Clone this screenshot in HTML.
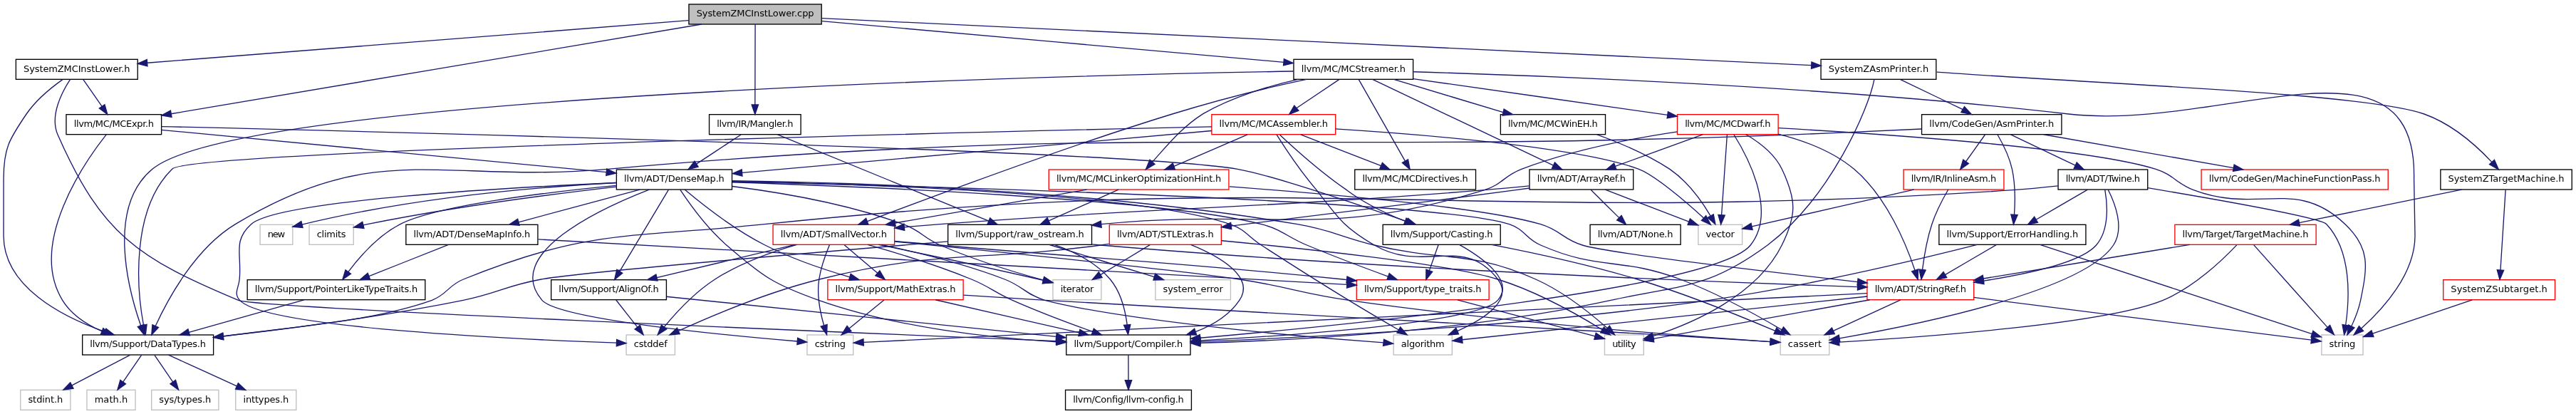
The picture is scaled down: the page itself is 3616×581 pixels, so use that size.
<!DOCTYPE html>
<html lang="en"><head><meta charset="utf-8"><title>SystemZMCInstLower.cpp include dependency graph</title>
<style>html,body{margin:0;padding:0;background:#fff;width:3616px;height:581px;overflow:hidden}svg{display:block;will-change:transform}text{font-family:"DejaVu Sans","Liberation Sans",sans-serif;font-size:13px;fill:#000;text-anchor:middle}.e path{fill:none;stroke:#191970;stroke-width:1.333}.e polygon{fill:#191970;stroke:#191970;stroke-width:1.333}.n rect{stroke-width:1.333}</style></head><body>
<svg width="3616" height="581" viewBox="0 0 3616 581">
<rect width="3616" height="581" fill="#fff"/>
<g class="n"><rect x="966.97" y="6" width="186.26" height="28" fill="#bfbfbf" stroke="#000"/><text x="1060.1" y="23.33" textLength="164.93" lengthAdjust="spacing">SystemZMCInstLower.cpp</text></g>
<g class="n"><rect x="22.37" y="83.33" width="170.86" height="28" fill="#fff" stroke="#000"/><text x="107.8" y="100.66" textLength="149.53" lengthAdjust="spacing">SystemZMCInstLower.h</text></g>
<g class="e"><path d="M966.65,28.67C786.16,42.81 391.26,73.77 206.61,88.25"/><polygon points="206.25,83.6 193.16,89.31 206.98,92.91"/></g>
<g class="n"><rect x="92.97" y="160.67" width="133.66" height="28" fill="#fff" stroke="#000"/><text x="159.8" y="178" textLength="112.33" lengthAdjust="spacing">llvm/MC/MCExpr.h</text></g>
<g class="e"><path d="M984.91,34.03C817.02,62.37 412.95,130.59 240.24,159.75"/><polygon points="239.46,155.15 226.73,162.03 241.02,164.35"/></g>
<g class="n"><rect x="2556.07" y="83.33" width="161.76" height="28" fill="#fff" stroke="#000"/><text x="2636.95" y="100.66" textLength="140.43" lengthAdjust="spacing">SystemZAsmPrinter.h</text></g>
<g class="e"><path d="M1153.86,25.69C1432.24,38.91 2263.79,78.37 2542.75,91.61"/><polygon points="2542.53,96.27 2556.26,92.24 2542.97,86.95"/></g>
<g class="n"><rect x="995.57" y="160.67" width="128.56" height="28" fill="#fff" stroke="#000"/><text x="1059.85" y="178" textLength="107.23" lengthAdjust="spacing">llvm/IR/Mangler.h</text></g>
<g class="e"><path d="M1060.1,34.29C1060.04,59.2 1059.92,114.17 1059.85,147.04"/><polygon points="1055.18,147.04 1059.85,160.41 1064.52,147.04"/></g>
<g class="n"><rect x="1815.97" y="83.33" width="167.66" height="28" fill="#fff" stroke="#000"/><text x="1899.8" y="100.66" textLength="146.33" lengthAdjust="spacing">llvm/MC/MCStreamer.h</text></g>
<g class="e"><path d="M1153.46,29.64C1313.6,43.88 1638.82,72.79 1801.97,87.29"/><polygon points="1801.56,91.94 1815.32,88.48 1802.39,82.65"/></g>
<g class="e"><path d="M116.85,111.67C124.09,122.05 134.43,136.89 143.13,149.41"/><polygon points="139.3,152.08 150.84,160.48 146.96,146.75"/></g>
<g class="n"><rect x="115.67" y="470" width="183.96" height="28" fill="#fff" stroke="#000"/><text x="207.65" y="487.33" textLength="162.63" lengthAdjust="spacing">llvm/Support/DataTypes.h</text></g>
<g class="e"><path d="M87.91,111.59C72.17,122.73 50.65,140.12 37.11,160C13.06,195.32 5.09,207.93 5.07,250.67C5.07,250.67 5.07,250.67 5.04,330.67C5.01,402.57 87.66,444.64 147.4,465.64"/><polygon points="145.91,470.06 160.13,469.92 148.88,461.22"/></g>
<g class="n"><rect x="1496.77" y="470" width="174.26" height="28" fill="#fff" stroke="#000"/><text x="1583.9" y="487.33" textLength="152.93" lengthAdjust="spacing">llvm/Support/Compiler.h</text></g>
<g class="e"><path d="M98.6,111.35C86.86,129.21 69.39,162.6 81.15,189.33C142.7,329.07 193.63,362.55 334.55,421.33C360.94,432.35 1189.87,466.76 1482.69,478.61"/><polygon points="1482.5,483.28 1496.22,479.16 1482.88,473.95"/></g>
<g class="n"><rect x="865.37" y="238" width="162.16" height="28" fill="#fff" stroke="#000"/><text x="946.45" y="255.33" textLength="140.83" lengthAdjust="spacing">llvm/ADT/DenseMap.h</text></g>
<g class="e"><path d="M226.53,182.33C366.21,195.59 689.79,226.31 851.25,241.63"/><polygon points="850.81,246.27 864.94,242.93 851.69,236.98"/></g>
<g class="e"><path d="M149.37,188.67C119.5,226.59 38.82,341.44 87.67,421.33C100.12,441.68 121.68,455.56 143.13,464.88"/><polygon points="141.41,469.22 155.68,469.85 144.85,460.54"/></g>
<g class="n"><rect x="1941.17" y="315.33" width="165.06" height="28" fill="#fff" stroke="#000"/><text x="2023.7" y="332.66" textLength="143.73" lengthAdjust="spacing">llvm/Support/Casting.h</text></g>
<g class="e"><path d="M226.52,177.55C507.52,184.19 1587.01,211.17 1737.09,237.33C1783.34,245.4 1906.13,286.91 1975.03,310.87"/><polygon points="1973.5,315.27 1987.66,315.27 1976.57,306.46"/></g>
<g class="n"><rect x="569.87" y="315.33" width="185.06" height="28" fill="#fff" stroke="#000"/><text x="662.4" y="332.66" textLength="163.73" lengthAdjust="spacing">llvm/ADT/DenseMapInfo.h</text></g>
<g class="e"><path d="M898.09,266.17C850.98,278.8 778.91,298.13 727.9,311.81"/><polygon points="726.7,307.3 714.63,315.33 729.1,316.32"/></g>
<g class="n"><rect x="347.17" y="392.67" width="249.66" height="28" fill="#fff" stroke="#000"/><text x="472" y="410" textLength="228.33" lengthAdjust="spacing">llvm/Support/PointerLikeTypeTraits.h</text></g>
<g class="e"><path d="M864.7,260.39C767.88,269.77 613.14,288.32 561.81,314.67C531.23,330.37 504.82,360.37 488.77,381.56"/><polygon points="485.03,378.78 480.83,392.27 492.52,384.34"/></g>
<g class="n"><rect x="1904.27" y="392.67" width="185.86" height="28" fill="#fff" stroke="#f00"/><text x="1997.2" y="410" textLength="164.53" lengthAdjust="spacing">llvm/Support/type_traits.h</text></g>
<g class="e"><path d="M1027.88,255.73C1207.28,261.6 1631.64,278.92 1770.49,314.67C1800.8,322.47 1805.62,331.96 1834.51,344C1872.46,359.83 1916.1,376.17 1948.61,388.01"/><polygon points="1947.02,392.4 1961.39,392.64 1950.2,383.63"/></g>
<g class="n"><rect x="2252.47" y="470" width="54.86" height="28" fill="#fff" stroke="#bfbfbf"/><text x="2279.9" y="487.33" textLength="33.53" lengthAdjust="spacing">utility</text></g>
<g class="e"><path d="M1027.86,253.76C1183.21,255.73 1532.2,265.79 1821.15,314.67C1870.2,322.96 1880.81,332.32 1929.17,344C2029.27,368.17 2061.81,350.01 2155.86,392C2194.38,409.2 2232.63,439.75 2256.27,460.59"/><polygon points="2253.15,464.05 2266.62,469.93 2259.4,457.12"/></g>
<g class="n"><rect x="773.67" y="392.67" width="161.76" height="28" fill="#fff" stroke="#000"/><text x="854.55" y="410" textLength="140.43" lengthAdjust="spacing">llvm/Support/AlignOf.h</text></g>
<g class="e"><path d="M938.38,266.29C923.2,291.64 889.36,348.16 869.83,380.8"/><polygon points="865.87,378.33 862.6,392.41 873.79,383.27"/></g>
<g class="e"><path d="M954.73,266.24C967.19,285 992.29,320.12 1019.83,344C1070.42,387.89 1086.04,399.03 1149.2,421.33C1259.26,460.2 1393.2,474.52 1483.07,479.75"/><polygon points="1482.82,484.41 1496.55,480.48 1483.33,475.09"/></g>
<g class="n"><rect x="879.07" y="470" width="68.36" height="28" fill="#fff" stroke="#bfbfbf"/><text x="913.25" y="487.33" textLength="47.03" lengthAdjust="spacing">cstddef</text></g>
<g class="e"><path d="M864.73,256.52C710.77,263.29 389.67,281.27 352.51,314.67C326.47,338.07 339.58,356.99 336.14,392C334.86,404.96 327.66,411.64 336.5,421.33C372.11,460.39 733.62,476.55 865.48,481.17"/><polygon points="865.32,485.84 878.94,481.63 865.63,476.51"/></g>
<g class="n"><rect x="1161.87" y="392.67" width="190.26" height="28" fill="#fff" stroke="#f00"/><text x="1257" y="410" textLength="168.93" lengthAdjust="spacing">llvm/Support/MathExtras.h</text></g>
<g class="e"><path d="M961.1,266.07C983.95,285.23 1029.84,321.6 1073.89,344C1111.72,363.24 1156.86,378.43 1192.87,388.88"/><polygon points="1191.59,393.37 1206.15,392.65 1194.14,384.39"/></g>
<g class="n"><rect x="2499.17" y="470" width="68.66" height="28" fill="#fff" stroke="#bfbfbf"/><text x="2533.5" y="487.33" textLength="47.33" lengthAdjust="spacing">cassert</text></g>
<g class="e"><path d="M1028.01,255.11C1276.87,260.85 2015.82,280.63 2118.56,314.67C2140.88,322.07 2141.08,334.55 2162.61,344C2244.79,380.08 2274.7,360.45 2358.7,392C2410.58,411.48 2466.85,442.64 2501.17,462.88"/><polygon points="2498.77,466.89 2512.74,469.8 2503.56,458.87"/></g>
<g class="n"><rect x="1132.97" y="470" width="64.76" height="28" fill="#fff" stroke="#bfbfbf"/><text x="1165.35" y="487.33" textLength="43.43" lengthAdjust="spacing">cstring</text></g>
<g class="e"><path d="M911.32,266.01C843.28,292.48 704.74,356.53 760.93,421.33C784.26,448.24 1018.19,470.56 1119.27,479.01"/><polygon points="1118.88,483.66 1132.6,480.12 1119.66,474.36"/></g>
<g class="n"><rect x="1956.17" y="470" width="82.16" height="28" fill="#fff" stroke="#bfbfbf"/><text x="1997.25" y="487.33" textLength="60.83" lengthAdjust="spacing">algorithm</text></g>
<g class="e"><path d="M1028.2,254.56C1201.27,258.01 1599.22,270.63 1726.49,314.67C1748.71,322.36 1750.78,331.21 1770.51,344C1824.61,379.07 1838.18,387.77 1893.22,421.33C1916.5,435.52 1942.96,451.12 1963.38,463.04"/><polygon points="1961.04,467.07 1975.22,469.93 1965.73,459.01"/></g>
<g class="n"><rect x="434.07" y="315.33" width="62.16" height="28" fill="#fff" stroke="#bfbfbf"/><text x="465.15" y="332.66" textLength="40.83" lengthAdjust="spacing">climits</text></g>
<g class="e"><path d="M865.01,262.08C778.06,272.08 636.47,290.28 515.82,314.67C513.87,315.07 511.88,315.48 509.87,315.93"/><polygon points="508.78,311.4 496.64,319.11 510.96,320.47"/></g>
<g class="n"><rect x="1477.97" y="392.67" width="67.96" height="28" fill="#fff" stroke="#bfbfbf"/><text x="1511.95" y="410" textLength="46.63" lengthAdjust="spacing">iterator</text></g>
<g class="e"><path d="M1027.96,261.48C1094.13,269.83 1189.01,285.8 1267.85,314.67C1292.78,323.79 1295.55,333.39 1319.89,344C1367.82,364.91 1425.23,382.29 1464.71,393.16"/><polygon points="1463.49,397.67 1477.88,396.72 1465.93,388.65"/></g>
<g class="n"><rect x="365.07" y="315.33" width="45.76" height="28" fill="#fff" stroke="#bfbfbf"/><text x="387.95" y="332.66" textLength="24.43" lengthAdjust="spacing">new</text></g>
<g class="e"><path d="M864.78,256.53C763.39,261.89 585.35,275.93 423.96,315.05"/><polygon points="422.85,310.52 410.82,318.28 425.08,319.59"/></g>
<g class="e"><path d="M628.93,343.51C598.3,355.71 551.98,374.16 517.91,387.72"/><polygon points="516.23,383.36 505.03,392.67 519.58,392.08"/></g>
<g class="e"><path d="M755.53,335.89C996.13,349.35 1636.16,385.13 1890.8,399.37"/><polygon points="1890.54,404.03 1904.43,400.13 1891.06,394.71"/></g>
<g class="e"><path d="M426.84,420.84C382.13,433.41 313.81,452.63 265.22,466.31"/><polygon points="263.95,461.82 252.21,470 266.5,470.8"/></g>
<g class="n"><rect x="121.97" y="547.33" width="68.06" height="28" fill="#fff" stroke="#bfbfbf"/><text x="156" y="564.66" textLength="46.73" lengthAdjust="spacing">math.h</text></g>
<g class="e"><path d="M198.6,498.33C191.45,508.72 181.26,523.56 172.67,536.08"/><polygon points="168.84,533.41 164.96,547.15 176.5,538.75"/></g>
<g class="n"><rect x="212.67" y="547.33" width="94.26" height="28" fill="#fff" stroke="#bfbfbf"/><text x="259.8" y="564.66" textLength="72.93" lengthAdjust="spacing">sys/types.h</text></g>
<g class="e"><path d="M216.94,498.33C224.03,508.72 234.17,523.56 242.71,536.08"/><polygon points="238.91,538.79 250.61,547.15 246.5,533.37"/></g>
<g class="n"><rect x="330.77" y="547.33" width="85.06" height="28" fill="#fff" stroke="#bfbfbf"/><text x="373.3" y="564.66" textLength="63.73" lengthAdjust="spacing">inttypes.h</text></g>
<g class="e"><path d="M236.53,498.17C262.98,510.21 302.77,528.33 332.46,541.85"/><polygon points="330.57,546.12 344.79,547.33 334.35,537.59"/></g>
<g class="n"><rect x="28.77" y="547.33" width="70.16" height="28" fill="#fff" stroke="#bfbfbf"/><text x="63.85" y="564.66" textLength="48.83" lengthAdjust="spacing">stdint.h</text></g>
<g class="e"><path d="M182.33,498.33C159.83,510.12 126.41,527.61 100.9,540.96"/><polygon points="98.77,536.81 88.88,547.15 103.04,545.11"/></g>
<g class="e"><path d="M2045.79,420.84C2100.34,435.24 2187.88,458.36 2239.05,471.88"/><polygon points="2237.86,476.39 2252.46,475.41 2240.24,467.37"/></g>
<g class="e"><path d="M935.34,416.24C1069,429.95 1336.63,457.37 1482.67,472.35"/><polygon points="1482.2,476.99 1496.06,473.71 1483.15,467.7"/></g>
<g class="e"><path d="M864.76,421C873.03,431.49 884.85,446.53 894.76,459.13"/><polygon points="891.09,462.02 903.14,469.81 898.43,456.25"/></g>
<g class="n"><rect x="1495.57" y="547.33" width="176.86" height="28" fill="#fff" stroke="#000"/><text x="1584" y="564.66" textLength="155.53" lengthAdjust="spacing">llvm/Config/llvm-config.h</text></g>
<g class="e"><path d="M1583.9,498.33C1583.93,508.08 1583.97,521.75 1584,533.73"/><polygon points="1579.33,533.73 1584,547.15 1588.67,533.73"/></g>
<g class="e"><path d="M1313.01,420.75C1368.84,433.53 1454.89,453.23 1514.9,466.96"/><polygon points="1513.86,471.51 1528.11,469.97 1515.94,462.41"/></g>
<g class="e"><path d="M1352.43,414.19C1388.49,416.48 1429.92,419.08 1467.58,421.33C1846.47,444 1941.4,446.81 2320.3,469.33C2376.83,472.69 2441.79,476.79 2484.98,479.55"/><polygon points="2484.68,484.2 2498.77,480.43 2485.28,474.89"/></g>
<g class="e"><path d="M1240.97,421C1227.48,432.04 1207.85,448.08 1192,461.04"/><polygon points="1189.06,457.42 1181.19,469.81 1194.94,464.66"/></g>
<g class="e"><path d="M2019.06,343.67C2015.55,353.63 2010.6,367.68 2006.31,379.85"/><polygon points="2001.91,378.28 2001.79,392.48 2010.7,381.43"/></g>
<g class="e"><path d="M2048.55,343.36C2079.91,360.97 2126.95,393.76 2102.48,421.33C2075.33,451.95 1828.21,469.89 1685.13,477.81"/><polygon points="1684.87,473.15 1671.62,478.55 1685.38,482.47"/></g>
<g class="e"><path d="M2093.87,343.33C2149.86,354.16 2229.97,371.24 2298.55,392C2367.69,412.92 2445.45,444.6 2491.93,464.43"/><polygon points="2490.08,468.71 2504.73,469.95 2493.77,460.14"/></g>
<g class="e"><path d="M2630.94,111.43C2623.45,151.64 2569.69,276.96 2481.23,344C2397.75,405.43 2362.51,399.31 2261.23,421.33C2059.9,465.12 1818.31,477.72 1684.9,481.29"/><polygon points="1684.78,476.63 1671.55,481.63 1685.02,485.96"/></g>
<g class="n"><rect x="3425.87" y="238" width="184.36" height="28" fill="#fff" stroke="#000"/><text x="3518.05" y="255.33" textLength="163.03" lengthAdjust="spacing">SystemZTargetMachine.h</text></g>
<g class="e"><path d="M2718.6,101.2C2930,117 3320,130.4 3402.8,160C3443.9,174.7 3477.6,205.9 3498,227.6"/><polygon points="3494.52,230.71 3507.36,237.92 3501.44,224.44"/></g>
<g class="n"><rect x="2697.57" y="160.67" width="196.36" height="28" fill="#fff" stroke="#000"/><text x="2795.75" y="178" textLength="175.03" lengthAdjust="spacing">llvm/CodeGen/AsmPrinter.h</text></g>
<g class="e"><path d="M2667.74,111.67C2691.89,123.24 2727.54,140.32 2755.2,153.57"/><polygon points="2752.91,157.64 2767.42,160.48 2757.5,149.51"/></g>
<g class="n"><rect x="3429.67" y="392.67" width="156.86" height="28" fill="#fff" stroke="#f00"/><text x="3508.1" y="410" textLength="135.53" lengthAdjust="spacing">SystemZSubtarget.h</text></g>
<g class="e"><path d="M3517.14,266.29C3515.55,291.2 3512.04,346.17 3509.94,379.04"/><polygon points="3505.28,378.72 3509.01,392.41 3514.6,379.36"/></g>
<g class="n"><rect x="3052.87" y="315.33" width="198.26" height="28" fill="#fff" stroke="#f00"/><text x="3152" y="332.66" textLength="176.93" lengthAdjust="spacing">llvm/Target/TargetMachine.h</text></g>
<g class="e"><path d="M3455.44,266.08C3392.33,278.97 3294.76,298.89 3227.44,312.64"/><polygon points="3226.51,308.07 3214.36,315.31 3228.37,317.21"/></g>
<g class="n"><rect x="3258.87" y="470" width="58.16" height="28" fill="#fff" stroke="#bfbfbf"/><text x="3287.95" y="487.33" textLength="36.83" lengthAdjust="spacing">string</text></g>
<g class="e"><path d="M3470.29,420.84C3431.39,434.03 3370.95,454.51 3330.44,468.24"/><polygon points="3328.94,463.82 3317.54,472.63 3331.95,472.66"/></g>
<g class="e"><path d="M3139.77,343.88C3120.36,364.37 3079.73,403.35 3036.28,421.33C2954.95,455 2690.98,473.63 2581.65,480.07"/><polygon points="2581.38,475.41 2568.18,480.84 2581.91,484.73"/></g>
<g class="e"><path d="M3163.6,343.63C3186.56,369.32 3238.16,427 3267.15,459.43"/><polygon points="3263.67,462.54 3276.39,469.75 3270.63,456.31"/></g>
<g class="n"><rect x="2620.97" y="392.67" width="149.76" height="28" fill="#fff" stroke="#f00"/><text x="2695.85" y="410" textLength="128.43" lengthAdjust="spacing">llvm/ADT/StringRef.h</text></g>
<g class="e"><path d="M3073.68,343.41C2993.26,356.63 2867.85,377.21 2784.01,390.99"/><polygon points="2783.26,386.38 2770.81,393.13 2784.76,395.59"/></g>
<g class="e"><path d="M2624.81,420.75C2537.33,436.45 2391.66,462.6 2320.94,475.31"/><polygon points="2320.12,470.71 2307.43,477.72 2321.76,479.9"/></g>
<g class="e"><path d="M2667.89,420.84C2641.86,432.83 2602.74,450.84 2573.43,464.33"/><polygon points="2571.48,460.09 2561.1,470 2575.38,468.57"/></g>
<g class="e"><path d="M2620.92,411.65C2350.78,424.83 1430.52,469.73 1212.15,480.39"/><polygon points="1211.92,475.73 1198.22,481.07 1212.38,485.05"/></g>
<g class="e"><path d="M2621.08,415.99C2479.92,431.08 2177.16,463.44 2052.56,476.76"/><polygon points="2052.06,472.12 2038.97,478.21 2053.05,481.4"/></g>
<g class="e"><path d="M2770.56,417.39C2895.65,433.17 3144.41,464.57 3244.51,477.21"/><polygon points="3243.93,481.84 3258.24,478.93 3245.09,472.58"/></g>
<g class="e"><path d="M2697.14,180.99C2641.52,183.69 2570.77,186.96 2507.75,189.33C1772.54,217.01 1585.95,172.71 853.06,237.33C619.14,257.96 531.4,193.23 330.37,314.67C273.92,348.76 235.57,419.68 218.21,457.55"/><polygon points="213.94,455.66 212.77,469.88 222.48,459.43"/></g>
<g class="n"><rect x="2889.07" y="238" width="125.66" height="28" fill="#fff" stroke="#000"/><text x="2951.9" y="255.33" textLength="104.33" lengthAdjust="spacing">llvm/ADT/Twine.h</text></g>
<g class="e"><path d="M2822.56,188.84C2847.54,200.77 2885.01,218.68 2913.22,232.16"/><polygon points="2911.21,236.37 2925.43,238 2915.23,227.95"/></g>
<g class="n"><rect x="2721.87" y="315.33" width="206.06" height="28" fill="#fff" stroke="#000"/><text x="2824.9" y="332.66" textLength="184.73" lengthAdjust="spacing">llvm/Support/ErrorHandling.h</text></g>
<g class="e"><path d="M2804.03,189.03C2811,201.04 2820.52,219.64 2824.43,237.33C2829.09,258.41 2828.77,283 2827.49,301.25"/><polygon points="2822.83,300.9 2826.45,314.88 2832.14,301.61"/></g>
<g class="n"><rect x="3090.07" y="238" width="262.16" height="28" fill="#fff" stroke="#f00"/><text x="3221.15" y="255.33" textLength="240.83" lengthAdjust="spacing">llvm/CodeGen/MachineFunctionPass.h</text></g>
<g class="e"><path d="M2868.62,188.75C2942.51,201.75 3057.08,221.89 3135.32,235.65"/><polygon points="3134.52,240.25 3148.59,237.97 3136.13,231.06"/></g>
<g class="n"><rect x="2672.07" y="238" width="140.86" height="28" fill="#fff" stroke="#f00"/><text x="2742.5" y="255.33" textLength="119.53" lengthAdjust="spacing">llvm/IR/InlineAsm.h</text></g>
<g class="e"><path d="M2786.46,189C2779.07,199.39 2768.5,214.23 2759.59,226.75"/><polygon points="2755.8,224.03 2751.69,237.81 2763.39,229.46"/></g>
<g class="e"><path d="M2888.8,260.9C2868.6,263.1 2846,265.3 2825.2,266.7C2047.9,318.1 1848,233.7 1073.2,314.7C883.2,334.5 827.5,320.4 650.4,392C628.6,400.8 628.3,412.8 606.4,421.3C520,452 405,459 313.3,472.2"/><polygon points="312.7,467.57 299.8,473.6 313.67,476.85"/></g>
<g class="e"><path d="M2959.21,266.24C2968.78,284.99 2982.52,320.09 2966.67,344C2923.28,409.43 2685.85,456.89 2582.07,474.81"/><polygon points="2581.29,470.21 2568.35,477.15 2582.86,479.41"/></g>
<g class="e"><path d="M3014.86,263.69C3103.98,278.65 3257.32,305.53 3265.87,314.67C3301.57,352.76 3298.06,419.36 3292.66,456.23"/><polygon points="3288.04,455.51 3290.59,469.61 3297.27,456.94"/></g>
<g class="e"><path d="M2954.74,266.23C2958.19,285.6 2961.42,322.25 2942.54,344C2921.71,367.99 2846.32,384.39 2784.3,394.15"/><polygon points="2783.6,389.53 2770.89,396.2 2785.01,398.76"/></g>
<g class="e"><path d="M2930.07,266.33C2910.2,277.91 2880.85,294.99 2858.07,308.24"/><polygon points="2855.68,304.23 2846.49,315.15 2860.46,312.25"/></g>
<g class="e"><path d="M2775.37,343.47C2696.48,363.39 2536.88,401.59 2399.19,421.33C2143.68,457.97 1839.4,473.52 1684.85,479.44"/><polygon points="1684.67,474.78 1671.27,479.95 1685.02,484.1"/></g>
<g class="e"><path d="M2863.66,343.36C2949.63,371.6 3156.07,439.39 3245.43,468.73"/><polygon points="3243.97,473.17 3258.26,472.95 3246.89,464.3"/></g>
<g class="e"><path d="M2802.14,343.67C2782.35,355.24 2753.13,372.32 2730.44,385.57"/><polygon points="2728.12,381.52 2718.34,392.48 2732.75,389.63"/></g>
<g class="e"><path d="M2734.78,266.03C2727.78,278.12 2717.66,297.03 2711.84,314.67C2704.95,335.53 2700.85,360.15 2698.53,378.45"/><polygon points="2693.89,377.92 2696.97,392.13 2703.17,378.98"/></g>
<g class="n"><rect x="2383.87" y="315.33" width="61.76" height="28" fill="#fff" stroke="#bfbfbf"/><text x="2414.75" y="332.66" textLength="40.43" lengthAdjust="spacing">vector</text></g>
<g class="e"><path d="M2686.49,266.08C2622.18,280.73 2517.98,304.48 2459.07,317.91"/><polygon points="2458.03,313.36 2445.8,320.93 2460.11,322.46"/></g>
<g class="e"><path d="M1040.1,189C1022.86,200.36 997.55,217.01 977.57,230.16"/><polygon points="975,226.26 965.97,237.81 980.14,234.06"/></g>
<g class="n"><rect x="1330.67" y="315.33" width="201.86" height="28" fill="#fff" stroke="#000"/><text x="1431.6" y="332.66" textLength="180.53" lengthAdjust="spacing">llvm/Support/raw_ostream.h</text></g>
<g class="e"><path d="M1090.93,188.69C1157.06,215.75 1311.98,279.11 1387.97,310.17"/><polygon points="1386.21,314.49 1400.35,315.23 1389.74,305.85"/></g>
<g class="e"><path d="M1330.87,338.91C1157.11,353.25 814.32,382.24 759.62,392C710.09,400.84 699.6,411.35 650.3,421.33C536.03,444.48 403.38,461.59 313.3,471.77"/><polygon points="312.79,467.14 299.77,473.28 313.82,476.41"/></g>
<g class="e"><path d="M1479.89,343.33C1506.57,352.67 1538.28,368 1558.4,392C1573.48,409.99 1579.69,436.28 1582.23,455.93"/><polygon points="1577.59,456.37 1583.51,469.41 1586.88,455.49"/></g>
<g class="e"><path d="M1532.29,342.85C1536.56,343.27 1540.79,343.64 1544.94,344C1940.72,377.79 2414.65,396.05 2607.62,402.55"/><polygon points="2607.47,407.21 2621.02,403 2607.78,397.88"/></g>
<g class="n"><rect x="1621.87" y="392.67" width="105.56" height="28" fill="#fff" stroke="#bfbfbf"/><text x="1674.65" y="410" textLength="84.23" lengthAdjust="spacing">system_error</text></g>
<g class="e"><path d="M1473.32,343.51C1513.95,355.97 1575.85,374.97 1620.32,388.61"/><polygon points="1618.94,393.07 1633.48,392.67 1621.69,384.15"/></g>
<g class="e"><path d="M1815.45,100.03C1491.42,105.99 338.42,134.32 213.9,237.33C149.56,290.56 179.84,405.68 197.69,457.04"/><polygon points="193.31,458.66 202.37,469.72 202.07,455.42"/></g>
<g class="e"><path d="M1984.36,100.79C2157.58,105.81 2565.4,121.08 2903.69,160C3120.76,184.89 3393.13,31.23 3388.59,250.67C3388.59,250.67 3388.59,250.67 3390,330.67C3390,384.61 3344.89,433.99 3314.51,461.04"/><polygon points="3311.45,457.52 3304.23,469.96 3317.57,464.56"/></g>
<g class="n"><rect x="2146.97" y="238" width="145.76" height="28" fill="#fff" stroke="#000"/><text x="2219.85" y="255.33" textLength="124.43" lengthAdjust="spacing">llvm/ADT/ArrayRef.h</text></g>
<g class="e"><path d="M1926.64,111.36C1983.06,138.19 2114.6,200.72 2180.53,232.07"/><polygon points="2178.53,236.29 2192.85,237.89 2182.53,227.85"/></g>
<g class="n"><rect x="1085.07" y="315.33" width="170.56" height="28" fill="#fff" stroke="#f00"/><text x="1170.35" y="332.66" textLength="149.23" lengthAdjust="spacing">llvm/ADT/SmallVector.h</text></g>
<g class="e"><path d="M1833.9,111.3C1786,121.5 1712,139.5 1644,160.5C1480,211 1301.1,278.9 1217.3,310.7"/><polygon points="1215.72,306.31 1204.76,315.32 1218.95,315.06"/></g>
<g class="n"><rect x="1700.87" y="160.67" width="173.86" height="28" fill="#fff" stroke="#f00"/><text x="1787.8" y="178" textLength="152.53" lengthAdjust="spacing">llvm/MC/MCAssembler.h</text></g>
<g class="e"><path d="M1879.71,111.67C1863.23,122.71 1839.26,138.75 1819.91,151.71"/><polygon points="1816.86,148.17 1809.72,160.48 1822.95,155.24"/></g>
<g class="n"><rect x="1901.77" y="238" width="169.76" height="28" fill="#fff" stroke="#000"/><text x="1986.65" y="255.33" textLength="148.43" lengthAdjust="spacing">llvm/MC/MCDirectives.h</text></g>
<g class="e"><path d="M1907.31,111.63C1921.73,136.97 1953.88,193.49 1972.45,226.13"/><polygon points="1968.41,228.47 1979.17,237.75 1976.49,223.8"/></g>
<g class="n"><rect x="1472.27" y="238" width="252.66" height="28" fill="#fff" stroke="#f00"/><text x="1598.6" y="255.33" textLength="231.33" lengthAdjust="spacing">llvm/MC/MCLinkerOptimizationHint.h</text></g>
<g class="e"><path d="M1822.3,111.3C1785,119.5 1730,136 1688.9,159.6C1658,179 1637,206 1617.5,227.3"/><polygon points="1614.01,224.2 1608.3,237.9 1621.06,230.32"/></g>
<g class="n"><rect x="2354.47" y="160.67" width="141.66" height="28" fill="#fff" stroke="#f00"/><text x="2425.3" y="178" textLength="120.33" lengthAdjust="spacing">llvm/MC/MCDwarf.h</text></g>
<g class="e"><path d="M1983.84,110.59C2081.71,124.51 2242.7,147.4 2340.78,161.35"/><polygon points="2340.13,165.97 2354.23,163.25 2341.43,156.73"/></g>
<g class="n"><rect x="2106.37" y="160.67" width="147.16" height="28" fill="#fff" stroke="#000"/><text x="2179.95" y="178" textLength="125.83" lengthAdjust="spacing">llvm/MC/MCWinEH.h</text></g>
<g class="e"><path d="M1956.49,111.41C1998.97,124.2 2064.45,143.89 2110.11,157.63"/><polygon points="2109.08,162.18 2123.48,160.64 2111.14,153.07"/></g>
<g class="e"><path d="M2253.32,266.17C2285.77,278.59 2335.15,297.49 2370.76,311.13"/><polygon points="2369.09,315.49 2383.64,316.07 2372.43,306.78"/></g>
<g class="n"><rect x="2232.07" y="315.33" width="127.06" height="28" fill="#fff" stroke="#000"/><text x="2295.6" y="332.66" textLength="105.73" lengthAdjust="spacing">llvm/ADT/None.h</text></g>
<g class="e"><path d="M2233.09,266.33C2244.02,277.15 2259.84,292.79 2272.81,305.61"/><polygon points="2269.54,308.94 2282.52,315.15 2276.08,302.28"/></g>
<g class="n"><rect x="1557.27" y="315.33" width="157.06" height="28" fill="#fff" stroke="#f00"/><text x="1635.8" y="332.66" textLength="135.73" lengthAdjust="spacing">llvm/ADT/STLExtras.h</text></g>
<g class="e"><path d="M2147.05,264.03C2140.56,264.93 2134.09,265.83 2127.85,266.67C1988.71,285.41 1827.16,305.17 1728.21,317.04"/><polygon points="1727.66,312.41 1714.68,318.65 1728.77,321.67"/></g>
<g class="e"><path d="M2146.84,260.96C2126.46,262.96 2104.29,265.03 2083.83,266.67C1744.62,293.93 1659.01,288.87 1319.7,314.67C1303.41,315.91 1286.14,317.33 1269.34,318.79"/><polygon points="1268.93,314.14 1256,319.96 1269.75,323.44"/></g>
<g class="e"><path d="M1714.79,337.76C1828.38,348.52 2031.97,370.05 2102.51,392C2156.92,408.92 2214.78,441.63 2249.11,462.77"/><polygon points="2246.63,466.73 2260.63,470 2251.59,458.82"/></g>
<g class="e"><path d="M1671.57,343.37C1709.99,359.08 1762.64,387.88 1739.86,421.33C1725.37,442.63 1702.24,456.53 1678.18,465.61"/><polygon points="1676.67,461.2 1665.55,469.93 1679.69,470.03"/></g>
<g class="e"><path d="M1556.69,342.41C1552.8,342.96 1548.94,343.49 1545.17,344C1369.99,367.56 1321.43,349.55 1150.26,392C1078.1,409.91 998.33,443.56 952.3,464.45"/><polygon points="950.37,460.2 940.12,469.99 954.23,468.7"/></g>
<g class="e"><path d="M1614.2,343.67C1595.04,355.24 1566.74,372.32 1544.78,385.57"/><polygon points="1542.37,381.57 1533.3,392.48 1547.18,389.57"/></g>
<g class="e"><path d="M1256.03,338.39C1276.86,340.24 1299.08,342.2 1319.7,344C1570.99,365.88 1634.24,366.43 1885.2,392C1886.95,392.17 1888.72,392.36 1890.51,392.55"/><polygon points="1890.01,397.19 1904.33,394.03 1891,387.91"/></g>
<g class="e"><path d="M1115.94,343.41C1062.3,356.17 979.7,375.81 921.95,389.53"/><polygon points="920.88,384.99 908.75,392.64 923.02,394.08"/></g>
<g class="e"><path d="M1218,343.4C1257.65,354.55 1315.2,372.05 1363.77,392C1390.26,402.88 1394.96,409.75 1421.16,421.33C1458.29,437.76 1501.33,453.85 1533.82,465.43"/><polygon points="1532.26,469.83 1546.59,469.95 1535.38,461.03"/></g>
<g class="e"><path d="M1118.5,343.36C1084.13,353.29 1038.95,369.25 1003.57,392C975.2,410.24 948.85,438.83 932.16,459.01"/><polygon points="928.56,456.03 923.22,469.79 935.75,461.99"/></g>
<g class="e"><path d="M1185.22,343.67C1198.06,354.6 1216.69,370.44 1231.84,383.32"/><polygon points="1228.77,386.83 1242.31,392.48 1234.91,379.81"/></g>
<g class="e"><path d="M1255.9,339.01C1391.26,352.37 1648.74,378.4 1739.87,392C1808.53,402.24 1824.59,411.49 1893.3,421.33C2113.35,452.84 2378.29,472.44 2485.25,479.59"/><polygon points="2484.94,484.24 2498.67,480.48 2485.56,474.93"/></g>
<g class="e"><path d="M1164.47,343.49C1159.41,355.68 1152.41,374.65 1149.73,392C1146.36,413.84 1151.36,438.67 1156.63,456.81"/><polygon points="1152.17,458.18 1160.58,469.75 1161.09,455.45"/></g>
<g class="e"><path d="M1237.3,343.4C1286.2,353.8 1353.6,370.2 1410.4,392C1436.7,402.1 1439.6,413.1 1466.5,421.3C1560,446 1790,470.5 1942.3,480.8"/><polygon points="1941.54,485.41 1955.6,482.3 1942.58,476.14"/></g>
<g class="e"><path d="M1233.42,343.43C1291.92,355.41 1381.31,374.13 1458.61,392C1460.53,392.44 1462.48,392.91 1464.46,393.37"/><polygon points="1463.36,397.91 1477.56,396.55 1465.55,388.84"/></g>
<g class="e"><path d="M1700.87,183.51C1543.43,197.57 1204.88,227.85 1041.58,242.45"/><polygon points="1041.18,237.8 1028.25,243.61 1041.99,247.1"/></g>
<g class="e"><path d="M1701.07,177.88C1378.66,185.13 258.3,212.11 241.63,237.33C183.82,293.48 191.85,405.28 201.52,456.25"/><polygon points="196.95,457.23 204.34,469.45 206.08,455.28"/></g>
<g class="e"><path d="M1792.12,189.05C1803.67,207.37 1826.38,241.29 1848.05,266.67C1878.64,306.37 1886.9,319.55 1929.25,344C1998.13,384.56 2054.1,328.37 2102.58,392C2124.89,421.33 2083.09,447.93 2045.73,464.63"/><polygon points="2043.91,460.33 2033.33,469.89 2047.55,468.92"/></g>
<g class="e"><path d="M1796.55,189.28C1817.08,208.48 1857.38,244.16 1890.37,266.67C1915.13,285.24 1946.41,300 1972.45,310.37"/><polygon points="1970.77,314.73 1985.14,315.27 1974.13,306.02"/></g>
<g class="e"><path d="M1874.59,180.92C1998.79,188.81 2218.8,206.6 2300.41,237.33C2322.21,245.55 2365.51,281.97 2391.55,306.08"/><polygon points="2388.37,309.49 2401.36,315.24 2394.73,302.67"/></g>
<g class="e"><path d="M1825.83,188.84C1856.93,200.93 1903.81,219.16 1938.62,232.69"/><polygon points="1936.79,236.98 1951.01,238 1940.46,228.4"/></g>
<g class="e"><path d="M1751.13,188.84C1722.62,201.15 1679.38,219.81 1647.88,233.41"/><polygon points="1646.34,229.01 1634.8,238 1649.42,237.82"/></g>
<g class="e"><path d="M1725.84,261.91C1866.42,272.32 2083.45,291.4 2162.57,314.67C2190.54,322.89 2193.34,335.49 2221.22,344C2257.25,355 2480.51,381.2 2607.58,395.55"/><polygon points="2607.06,400.18 2621.08,397.07 2608.11,390.91"/></g>
<g class="e"><path d="M1569.95,266.17C1542.99,278.21 1502.38,296.33 1472.11,309.85"/><polygon points="1470.2,305.59 1459.88,315.33 1474.02,314.11"/></g>
<g class="e"><path d="M1525.51,266.08C1450.96,279.08 1335.38,299.23 1256.44,312.99"/><polygon points="1255.64,308.39 1243.14,315.31 1257.24,317.58"/></g>
<g class="e"><path d="M2450.91,188.73C2468.67,199.12 2490.91,215.61 2501.29,237.33C2521.72,280.11 2522.3,301.51 2501.26,344C2465.73,415.79 2373.85,454.52 2320.3,471.64"/><polygon points="2318.94,467.18 2307.25,475.63 2321.66,476.1"/></g>
<g class="e"><path d="M2433.95,189C2453.11,219.59 2494.58,297.04 2457.26,344C2409.54,404.04 1904.24,454.84 1684.74,474.24"/><polygon points="1684.33,469.59 1671.33,475.41 1685.15,478.89"/></g>
<g class="e"><path d="M2496.39,179.69C2633.4,187.39 2929.06,207 3026.08,237.33C3051.83,245.39 3053.93,257.08 3079.13,266.67C3169.68,301.09 3221.76,248.17 3292,314.67C3327.03,347.83 3323.52,373.8 3313.64,421.33C3311.04,433.87 3305.82,447.05 3300.74,457.97"/><polygon points="3296.54,455.94 3294.92,469.97 3304.94,460.01"/></g>
<g class="e"><path d="M2496.05,188.04C2531.17,196.91 2572.43,211.99 2602.6,237.33C2648.38,275.77 2675.75,342.73 2688.06,379.43"/><polygon points="2683.62,380.84 2692.17,392.31 2692.51,378.01"/></g>
<g class="e"><path d="M2424.39,188.96C2422.67,213.87 2418.86,268.84 2416.59,301.71"/><polygon points="2411.93,301.38 2415.66,315.08 2421.25,302.03"/></g>
<g class="e"><path d="M2354.62,184.84C2294.94,193.73 2207.95,210.11 2135.82,237.33C2110.97,246.71 2109.09,258.8 2083.74,266.67C1858.21,336.69 1786.66,291.65 1545.77,314.67"/><polygon points="1545.31,310.02 1532.31,316 1546.23,319.31"/></g>
<g class="e"><path d="M2390.01,188.84C2356.12,201.15 2304.74,219.81 2267.29,233.41"/><polygon points="2265.69,229.03 2254.69,238 2268.89,237.8"/></g>
<g class="e"><path d="M2241.75,188.85C2270.84,199.31 2310.85,215.83 2343.89,237.33C2371.11,256.04 2389.51,283.33 2401.2,303.08"/><polygon points="2397.15,305.39 2407.88,314.8 2405.26,300.77"/></g>
</svg></body></html>
